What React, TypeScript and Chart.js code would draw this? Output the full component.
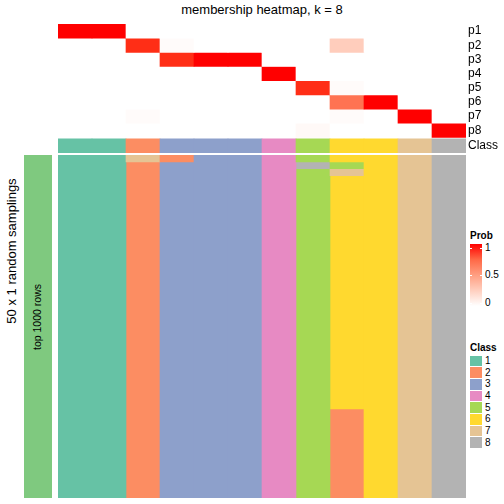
import React, { useEffect, useRef } from "react";
import { Chart, registerables } from "chart.js";
Chart.register(...registerables);

const FONT = "'Liberation Sans', Arial, Helvetica, sans-serif";

const title = "membership heatmap, k = 8";
const rowTitle = "50 x 1 random samplings";
const annotationLabel = "top 1000 rows";
const sampleIds = ["s1", "s2", "s3", "s4", "s5", "s6", "s7", "s8", "s9", "s10", "s11", "s12"];
const probRowLabels = ["p1", "p2", "p3", "p4", "p5", "p6", "p7", "p8"];
const classRowLabel = "Class";
const sampleClass = [1, 1, 2, 3, 3, 3, 4, 5, 6, 6, 7, 8];

const p1 = [1, 1, 0, 0, 0, 0, 0, 0, 0, 0, 0, 0];
const p2 = [0, 0, 0.94, 0.02, 0, 0, 0, 0, 0.26, 0, 0, 0];
const p3 = [0, 0, 0, 0.94, 1, 1, 0, 0, 0, 0, 0, 0];
const p4 = [0, 0, 0, 0, 0, 0, 1, 0, 0, 0, 0, 0];
const p5 = [0, 0, 0, 0, 0, 0, 0, 0.94, 0.02, 0, 0, 0];
const p6 = [0, 0, 0, 0, 0, 0, 0, 0, 0.7, 1, 0, 0];
const p7 = [0, 0, 0.02, 0, 0, 0, 0, 0, 0.02, 0, 1, 0];
const p8 = [0, 0, 0, 0, 0, 0, 0, 0.03, 0, 0, 0, 1];

const classIds = [1, 2, 3, 4, 5, 6, 7, 8];
const classColors = ["#66C2A5", "#FC8D62", "#8DA0CB", "#E78AC3", "#A6D854", "#FFD92F", "#E5C494", "#B3B3B3"];
const annotationColor = "#7FC97F";
const probLegendTicks = [0, 0.5, 1];

const samplingCount = 50;
// [sampling row, sample column, class]
const samplingOverrides: [number, number, number][] = [
  [0, 2, 7], [0, 3, 2],
  [1, 7, 8], [1, 8, 5],
  [2, 8, 7],
  [37, 8, 2], [38, 8, 2], [39, 8, 2], [40, 8, 2], [41, 8, 2], [42, 8, 2], [43, 8, 2],
  [44, 8, 2], [45, 8, 2], [46, 8, 2], [47, 8, 2], [48, 8, 2], [49, 8, 2],
];

function labToHex(L: number, a: number, b: number): string {
  const fy = (L + 16) / 116;
  const fx = fy + a / 500;
  const fz = fy - b / 200;
  const f = (t: number) => (t * t * t > 0.008856 ? t * t * t : (t - 16 / 116) / 7.787);
  const X = 0.95047 * f(fx);
  const Y = f(fy);
  const Z = 1.08883 * f(fz);
  const lin = [
    3.2406 * X - 1.5372 * Y - 0.4986 * Z,
    -0.9689 * X + 1.8758 * Y + 0.0415 * Z,
    0.0557 * X - 0.204 * Y + 1.057 * Z,
  ];
  const out = lin.map((c) => {
    const g = c <= 0.0031308 ? 12.92 * c : 1.055 * Math.pow(Math.max(c, 0), 1 / 2.4) - 0.055;
    const v = Math.round(Math.min(1, Math.max(0, g)) * 255);
    return v.toString(16).padStart(2, "0");
  });
  return "#" + out.join("");
}

function probColor(v: number): string {
  const L = 100 + (53.2408 - 100) * v;
  const a = 80.0925 * v;
  const b = 67.2032 * v;
  return labToHex(L, a, b);
}

export default function App() {
  const topRef = useRef<HTMLCanvasElement>(null);
  const botRef = useRef<HTMLCanvasElement>(null);

  useEffect(() => {
    const probMatrix = [p1, p2, p3, p4, p5, p6, p7, p8];
    const rowLabels = [...probRowLabels, classRowLabel];
    const classStart = probMatrix.length + 0.1;
    const classEnd = classStart + 1;

    const topDatasets: any[] = probMatrix.map((vals, i) => ({
      data: vals.map(() => [i, i + 1]),
      backgroundColor: vals.map((v) => probColor(v)),
    }));
    topDatasets.push({
      data: sampleClass.map(() => [classStart, classEnd]),
      backgroundColor: sampleClass.map((c) => classColors[c - 1]),
    });

    const top = new Chart(topRef.current!, {
      type: "bar",
      data: { labels: sampleIds, datasets: topDatasets },
      options: {
        animation: false,
        responsive: false,
        events: [],
        layout: { padding: 0 },
        plugins: { legend: { display: false }, tooltip: { enabled: false }, title: { display: false } },
        datasets: { bar: { grouped: false, barPercentage: 1, categoryPercentage: 1, borderWidth: 0 } } as any,
        scales: {
          x: { display: false },
          y: {
            position: "right",
            min: 0,
            max: classEnd,
            reverse: true,
            grid: { display: false, drawTicks: false },
            border: { display: false },
            afterBuildTicks: (s: any) => {
              s.ticks = rowLabels.map((_, i) => ({ value: i < probMatrix.length ? i + 0.5 : classStart + 0.5 }));
            },
            afterFit: (s: any) => {
              s.width = 38;
              s.paddingTop = 0;
              s.paddingBottom = 0;
            },
            ticks: {
              autoSkip: false,
              padding: 2,
              color: "#000",
              font: { family: FONT, size: 12 },
              callback: (_v: any, idx: number) => rowLabels[idx],
            },
          } as any,
        },
      },
    });

    // class matrix for the 50 samplings
    const matrix: number[][] = [];
    for (let r = 0; r < samplingCount; r++) matrix.push([...sampleClass]);
    samplingOverrides.forEach(([r, c, k]) => {
      matrix[r][c] = k;
    });
    // merge consecutive equal cells in each column into one floating bar
    const runStart: (null | [number, number, number])[][] = matrix.map((row) => row.map(() => null));
    for (let c = 0; c < sampleClass.length; c++) {
      let r = 0;
      while (r < samplingCount) {
        let e = r;
        while (e + 1 < samplingCount && matrix[e + 1][c] === matrix[r][c]) e++;
        runStart[r][c] = [r, e + 1, matrix[r][c]];
        r = e + 1;
      }
    }
    const botDatasets = runStart
      .map((row) => ({
        data: row.map((cell) => (cell ? [cell[0], cell[1]] : null)),
        backgroundColor: row.map((cell) => (cell ? classColors[cell[2] - 1] : "rgba(0,0,0,0)")),
      }))
      .filter((d) => d.data.some((x) => x !== null));

    const bot = new Chart(botRef.current!, {
      type: "bar",
      data: { labels: sampleIds, datasets: botDatasets as any },
      options: {
        animation: false,
        responsive: false,
        events: [],
        layout: { padding: 0 },
        plugins: { legend: { display: false }, tooltip: { enabled: false } },
        datasets: { bar: { grouped: false, barPercentage: 1, categoryPercentage: 1, borderWidth: 0 } } as any,
        scales: {
          x: { display: false },
          y: { display: false, min: 0, max: samplingCount, reverse: true },
        },
      },
    });

    return () => {
      top.destroy();
      bot.destroy();
    };
  }, []);

  const gradStops = [0, 0.25, 0.5, 0.75, 1].map((v) => `${probColor(v)} ${v * 100}%`).join(", ");
  const barTop = 244;
  const barH = 62;
  const tickY = (v: number) => barTop + 3.5 + (1 - v) * (barH - 7);
  const classTitleTop = 342;
  const boxTop = 355.5;
  const boxStep = 11.7;

  return (
    <div
      style={{
        position: "absolute",
        left: 0,
        top: 0,
        width: 504,
        height: 504,
        background: "#fff",
        fontFamily: FONT,
        color: "#000",
        overflow: "hidden",
      }}
    >
      <div style={{ position: "absolute", left: 58, top: 2, width: 408, textAlign: "center", fontSize: 13, lineHeight: "16px", whiteSpace: "nowrap" }}>
        {title}
      </div>
      <canvas ref={topRef} width={446} height={129} style={{ position: "absolute", left: 58, top: 24 }} />
      <canvas ref={botRef} width={408} height={343} style={{ position: "absolute", left: 58, top: 155 }} />

      <div style={{ position: "absolute", left: 24, top: 155, width: 28, height: 343, background: annotationColor }} />
      <div
        style={{
          position: "absolute",
          left: 37,
          top: 317,
          transform: "translate(-50%, -50%) rotate(-90deg)",
          fontSize: 10.5,
          lineHeight: "12px",
          whiteSpace: "nowrap",
        }}
      >
        {annotationLabel}
      </div>
      <div
        style={{
          position: "absolute",
          left: 11,
          top: 251,
          transform: "translate(-50%, -50%) rotate(-90deg)",
          fontSize: 13,
          lineHeight: "15px",
          whiteSpace: "nowrap",
        }}
      >
        {rowTitle}
      </div>

      {/* Prob legend */}
      <div style={{ position: "absolute", left: 470, top: 230, fontSize: 10, fontWeight: "bold", lineHeight: "12px" }}>Prob</div>
      <div
        style={{
          position: "absolute",
          left: 470,
          top: barTop,
          width: 12,
          height: barH,
          background: `linear-gradient(to top, ${gradStops})`,
        }}
      />
      {probLegendTicks.map((v) => (
        <React.Fragment key={"t" + v}>
          <div style={{ position: "absolute", left: 470, top: Math.round(tickY(v)), width: 2, height: 1, background: "#fff" }} />
          <div style={{ position: "absolute", left: 480, top: Math.round(tickY(v)), width: 2, height: 1, background: "#fff" }} />
          <div style={{ position: "absolute", left: 485, top: tickY(v) - 6, fontSize: 10, lineHeight: "12px" }}>{String(v)}</div>
        </React.Fragment>
      ))}

      {/* Class legend */}
      <div style={{ position: "absolute", left: 470, top: classTitleTop, fontSize: 10, fontWeight: "bold", lineHeight: "12px" }}>
        Class
      </div>
      {classIds.map((k, i) => (
        <React.Fragment key={"c" + k}>
          <div
            style={{
              position: "absolute",
              left: 470,
              top: boxTop + i * boxStep,
              width: 12,
              height: boxStep - 1,
              background: classColors[k - 1],
            }}
          />
          <div style={{ position: "absolute", left: 485, top: boxTop + i * boxStep + (boxStep - 1) / 2 - 6, fontSize: 10, lineHeight: "12px" }}>
            {String(k)}
          </div>
        </React.Fragment>
      ))}
    </div>
  );
}
